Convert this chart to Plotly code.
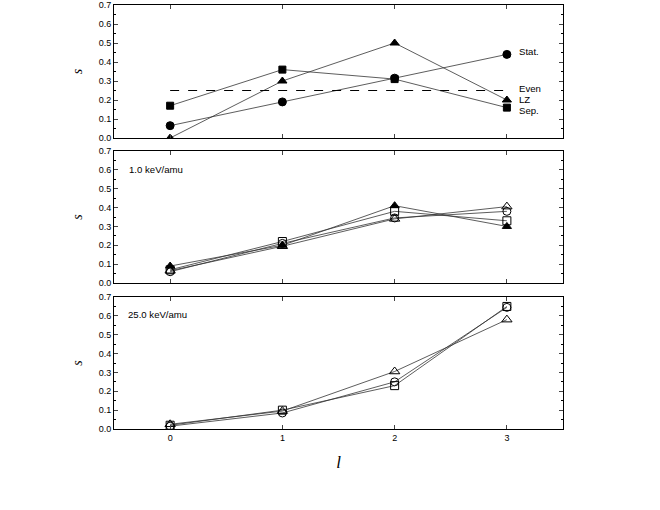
import plotly.graph_objects as go

l_vals = [0, 1, 2, 3]

# top panel: model distributions
stat_s = [0.065, 0.19, 0.315, 0.44]
lz_s = [0.0, 0.30, 0.50, 0.20]
sep_s = [0.17, 0.36, 0.31, 0.16]
even_s = [0.25, 0.25, 0.25, 0.25]

# middle panel: 1.0 keV/amu
mid_filled_tri = [0.09, 0.20, 0.41, 0.30]
mid_square = [0.07, 0.22, 0.38, 0.33]
mid_circle = [0.06, 0.21, 0.345, 0.38]
mid_tri = [0.065, 0.195, 0.34, 0.405]

# bottom panel: 25.0 keV/amu
bot_square = [0.02, 0.10, 0.23, 0.65]
bot_circle = [0.015, 0.085, 0.25, 0.645]
bot_tri = [0.025, 0.095, 0.305, 0.58]

y_ticks = [0.0, 0.1, 0.2, 0.3, 0.4, 0.5, 0.6, 0.7]
y_ticktext = ["0.0", "0.1", "0.2", "0.3", "0.4", "0.5", "0.6", "0.7"]

line_style = dict(color="#333333", width=0.8)
fig = go.Figure()


def add_series(ys, symbol, axis, size=8):
    fig.add_trace(go.Scatter(
        x=l_vals, y=ys, mode="lines+markers",
        line=line_style,
        marker=dict(symbol=symbol, size=size, color="black",
                    line=dict(color="black", width=1)),
        xaxis="x" + axis, yaxis="y" + axis, showlegend=False))


add_series(stat_s, "circle", "")
add_series(lz_s, "triangle-up", "")
add_series(sep_s, "square", "", size=7)
fig.add_trace(go.Scatter(x=l_vals, y=even_s, mode="lines",
                         line=dict(color="black", width=1, dash="dash"),
                         showlegend=False))

add_series(mid_square, "square-open", "2")
add_series(mid_circle, "circle-open", "2")
add_series(mid_tri, "triangle-up-open", "2", size=9)
add_series(mid_filled_tri, "triangle-up", "2")

add_series(bot_circle, "circle-open", "3")
add_series(bot_square, "square-open", "3")
add_series(bot_tri, "triangle-up-open", "3", size=9)

tick_fnt = dict(family="Liberation Sans, Arial, sans-serif", size=9, color="black")
fnt = dict(family="Liberation Sans, Arial, sans-serif", size=9.6, color="black")
xcommon = dict(range=[-0.5, 3.5], tickvals=l_vals, ticks="inside", ticklen=4,
               showline=True, linecolor="black", linewidth=1, mirror="ticks",
               showgrid=False, zeroline=False, tickfont=tick_fnt)
ycommon = dict(range=[0, 0.7], tickvals=y_ticks, ticktext=y_ticktext,
               ticks="inside", ticklen=4, showline=True, linecolor="black",
               linewidth=1, mirror="ticks", showgrid=False, zeroline=False,
               tickfont=tick_fnt, automargin=False,
               minor=dict(dtick=0.05, ticks="inside", ticklen=2,
                          tickcolor="black", showgrid=False),
               title=dict(text="<i>s</i>", standoff=12,
                          font=dict(family="Liberation Serif, Times New Roman, serif",
                                    size=14, color="black")))

fig.update_layout(
    width=660, height=510,
    margin=dict(l=114, r=97, t=5, b=81, autoexpand=False),
    paper_bgcolor="white", plot_bgcolor="white",
    xaxis=dict(xcommon, anchor="y", showticklabels=False),
    xaxis2=dict(xcommon, anchor="y2", matches="x", showticklabels=False),
    xaxis3=dict(xcommon, anchor="y3", matches="x", automargin=False,
                title=dict(text="<i>l</i>", standoff=14,
                           font=dict(family="Liberation Serif, Times New Roman, serif",
                                     size=17, color="black"))),
    yaxis=dict(ycommon, domain=[0.6863, 1.0], anchor="x"),
    yaxis2=dict(ycommon, domain=[0.3443, 0.6557], anchor="x2"),
    yaxis3=dict(ycommon, domain=[0.0, 0.3113], anchor="x3"),
)

labels = [("Stat.", 0.455), ("Even", 0.262), ("LZ", 0.204), ("Sep.", 0.146)]
for txt, yv in labels:
    fig.add_annotation(x=3.09, y=yv, text=txt, showarrow=False, xanchor="left",
                       xref="x", yref="y", font=fnt)

fig.add_annotation(x=-0.38, y=0.60, text="1.0 keV/amu", showarrow=False,
                   xanchor="left", xref="x2", yref="y2", font=fnt)
fig.add_annotation(x=-0.39, y=0.605, text="25.0 keV/amu", showarrow=False,
                   xanchor="left", xref="x3", yref="y3", font=fnt)

# the page has a default 8px body margin; drop it so the figure sits at 0,0
fig.write_html("out.html", config={"displayModeBar": False},
               post_script="document.body.style.margin='0px';")
